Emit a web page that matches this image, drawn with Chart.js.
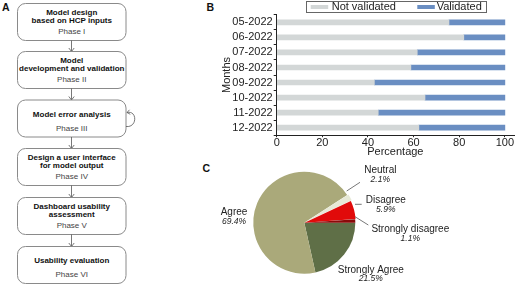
<!DOCTYPE html>
<html>
<head>
<meta charset="utf-8">
<script src="https://cdn.jsdelivr.net/npm/chart.js@4.4.1/dist/chart.umd.min.js"></script>
<style>
  body { margin: 0; background: #fff; width: 520px; height: 286px; overflow: hidden; position: relative;
         font-family: 'Liberation Sans', Arial, sans-serif; }
  #flow { position: absolute; left: 0; top: 0; }
  #barWrap { position: absolute; left: 180px; top: 0; width: 340px; height: 160px; }
  #pieWrap { position: absolute; left: 180px; top: 155px; width: 340px; height: 131px; }
</style>
</head>
<body>
<svg id="flow" width="520" height="286"></svg>
<div id="barWrap"><canvas id="bars"></canvas></div>
<div id="pieWrap"><canvas id="pie"></canvas></div>
<script>
// panel A: flow steps
const steps = [
  { title: ['Model design', 'based on HCP inputs'], phase: 'Phase I' },
  { title: ['Model', 'development and validation'], phase: 'Phase II' },
  { title: ['Model error analysis'], phase: 'Phase III' },
  { title: ['Design a user interface', 'for model output'], phase: 'Phase IV' },
  { title: ['Dashboard usability', 'assessment'], phase: 'Phase V' },
  { title: ['Usability evaluation'], phase: 'Phase VI' }
];

// panel B: validation per month (%)
const months = ['05-2022', '06-2022', '07-2022', '08-2022', '09-2022', '10-2022', '11-2022', '12-2022'];
const notValidated = [75.5, 82.0, 61.6, 58.8, 42.8, 65.0, 44.5, 62.3];
const validated = [24.5, 18.0, 38.4, 41.2, 57.2, 35.0, 55.5, 37.7];
const xTicks = [0, 20, 40, 60, 80, 100];

// panel C: survey answers (%)
const pieLabels = ['Strongly Agree', 'Agree', 'Neutral', 'Disagree', 'Strongly disagree'];
const pieValues = [21.5, 69.4, 2.1, 5.9, 1.1];
const pieColors = ['#5f6f47', '#aaa97a', '#e7e9d7', '#e10a0a', '#8a0a0a'];

const FONT = "'Liberation Sans', Arial, sans-serif";
Chart.defaults.font.family = FONT;
Chart.defaults.color = '#222';
Chart.defaults.animation = false;

// ---- flowchart + panel letters (svg) ----
(function drawFlow() {
  const svg = document.getElementById('flow');
  const NS = 'http://www.w3.org/2000/svg';
  const add = (tag, attrs, text) => {
    const el = document.createElementNS(NS, tag);
    for (const k in attrs) el.setAttribute(k, attrs[k]);
    if (text) el.textContent = text;
    svg.appendChild(el);
    return el;
  };
  const tops = [3, 51, 99.5, 148, 197, 246];
  const h = 37, cx = 71.75;
  steps.forEach((s, i) => {
    const top = tops[i];
    add('rect', { x: 17.5, y: top + 0.5, width: 108.5, height: h, rx: 8, fill: '#fff', stroke: '#8a8a8a', 'stroke-width': 1 });
    const ys = s.title.length === 2 ? [9.2, 17.3] : [14.6];
    s.title.forEach((t, j) => {
      add('text', { x: cx, y: top + ys[j], 'text-anchor': 'middle', 'dominant-baseline': 'central',
        'font-size': 8, 'font-weight': 'bold', fill: '#111', 'font-family': FONT }, t);
    });
    add('text', { x: cx, y: top + 28.5, 'text-anchor': 'middle', 'dominant-baseline': 'central',
      'font-size': 8, fill: '#444', 'font-family': FONT }, s.phase);
    if (i < steps.length - 1) {
      const y1 = top + h + 0.5, y2 = tops[i + 1] + 0.5;
      add('line', { x1: 71.5, y1: y1, x2: 71.5, y2: y2, stroke: '#555', 'stroke-width': 0.8 });
      add('polyline', { points: `68.8,${y2 - 3.5} 71.5,${y2} 74.2,${y2 - 3.5}`, fill: 'none', stroke: '#555', 'stroke-width': 0.8 });
    }
  });
  // self loop on phase III
  add('path', { d: 'M126,126.5 C137.5,128 137.5,110 127,112.5', fill: 'none', stroke: '#555', 'stroke-width': 0.8 });
  add('polyline', { points: '129.5,109.8 127,112.5 130.3,114.3', fill: 'none', stroke: '#555', 'stroke-width': 0.8 });

  [['A', 2, 11], ['B', 206.5, 10.5], ['C', 202.5, 172]].forEach(([t, x, y]) => {
    add('text', { x: x, y: y, 'font-size': 10.5, 'font-weight': 'bold', fill: '#111', 'font-family': FONT }, t);
  });
})();

// ---- panel B ----
const boxLegend = {
  id: 'boxLegend',
  afterDraw(chart) {
    const ctx = chart.ctx;
    ctx.save();
    ctx.strokeStyle = '#666';
    ctx.lineWidth = 1;
    ctx.strokeRect(126.5, 1.5, 180, 11);
    ctx.font = '11px ' + FONT;
    ctx.textBaseline = 'middle';
    ctx.fillStyle = '#222';
    const items = [[130.7, 151.7], [237.3, 256.7]];
    chart.data.datasets.forEach((ds, i) => {
      const [sx, tx] = items[i];
      ctx.fillStyle = ds.backgroundColor;
      ctx.fillRect(sx, 5, 17.5, 4);
      ctx.fillStyle = '#222';
      ctx.fillText(ds.label, tx, 7.3);
    });
    ctx.restore();
  }
};

new Chart(document.getElementById('bars'), {
  type: 'bar',
  data: {
    labels: months,
    datasets: [
      { label: 'Not validated', data: notValidated, backgroundColor: '#d3d7d7', barThickness: 5 },
      { label: 'Validated', data: validated, backgroundColor: '#6a8ec2', barThickness: 5 }
    ]
  },
  options: {
    indexAxis: 'y',
    responsive: true,
    maintainAspectRatio: false,
    layout: { padding: { left: 40, top: 14.8, right: 6, bottom: 0 } },
    plugins: { legend: { display: false }, tooltip: { enabled: false } },
    scales: {
      x: {
        stacked: true,
        min: 0,
        max: 104,
        afterBuildTicks: s => { s.ticks = xTicks.map(v => ({ value: v })); },
        afterFit: s => { s.height = 24.8; },
        grid: { drawOnChartArea: false, drawTicks: true, tickLength: 2, color: '#222' },
        border: { display: true, color: '#222', width: 1 },
        ticks: { font: { size: 11 }, color: '#222', padding: -1, maxRotation: 0, autoSkip: false },
        title: { display: true, text: 'Percentage', font: { size: 11 }, color: '#222', padding: { top: 0, bottom: 1 } }
      },
      y: {
        stacked: true,
        afterFit: s => { s.width = 56.7; },
        grid: { drawOnChartArea: false, drawTicks: true, tickLength: 3, color: '#222' },
        border: { display: true, color: '#222', width: 1 },
        ticks: { font: { size: 11 }, color: '#222', padding: 1, autoSkip: false },
        title: { display: true, text: 'Months', font: { size: 11 }, color: '#222', padding: 0 }
      }
    }
  },
  plugins: [boxLegend]
});

// ---- panel C ----
// label places relative to the pie centre: [name dx, name dy, pct dy, leader]
const pieLabelPlaces = [
  [66.5, 47.3, 56.3, null],
  [-70.3, -10, -0.7, null],
  [76, -52.7, -42.7, [42.4, -31.7, 55.7, -40.4]],
  [81.5, -22.7, -13.4, [50.7, -18.4, 57.4, -18.4]],
  [106, 6.3, 15.6, [50.7, -6, 64, 2.3]]
];

const pieLabelsPlugin = {
  id: 'pieLabels',
  afterDraw(chart) {
    const ctx = chart.ctx;
    const arc = chart.getDatasetMeta(0).data[0];
    const cx = arc.x, cy = arc.y;
    ctx.save();
    ctx.textAlign = 'center';
    ctx.textBaseline = 'middle';
    chart.data.labels.forEach((lab, i) => {
      const [dx, dy, pdy, lead] = pieLabelPlaces[i];
      if (lead) {
        ctx.strokeStyle = '#555';
        ctx.lineWidth = 0.8;
        ctx.beginPath();
        ctx.moveTo(cx + lead[0], cy + lead[1]);
        ctx.lineTo(cx + lead[2], cy + lead[3]);
        ctx.stroke();
      }
      ctx.fillStyle = '#222';
      ctx.font = '10px ' + FONT;
      ctx.fillText(lab, cx + dx, cy + dy);
      ctx.font = 'italic 8.5px ' + FONT;
      ctx.fillText(chart.data.datasets[0].data[i].toFixed(1) + '%', cx + dx, cy + pdy);
    });
    ctx.restore();
  }
};

new Chart(document.getElementById('pie'), {
  type: 'pie',
  data: {
    labels: pieLabels,
    datasets: [{
      data: pieValues,
      backgroundColor: pieColors,
      borderWidth: 0,
      offset: [0, 0, 3, 1, 0],
      radius: 51
    }]
  },
  options: {
    responsive: true,
    maintainAspectRatio: false,
    rotation: 90,
    layout: { padding: { left: 0, right: 91.4, top: 4.4, bottom: 0 } },
    plugins: { legend: { display: false }, tooltip: { enabled: false } }
  },
  plugins: [pieLabelsPlugin]
});
</script>
</body>
</html>
